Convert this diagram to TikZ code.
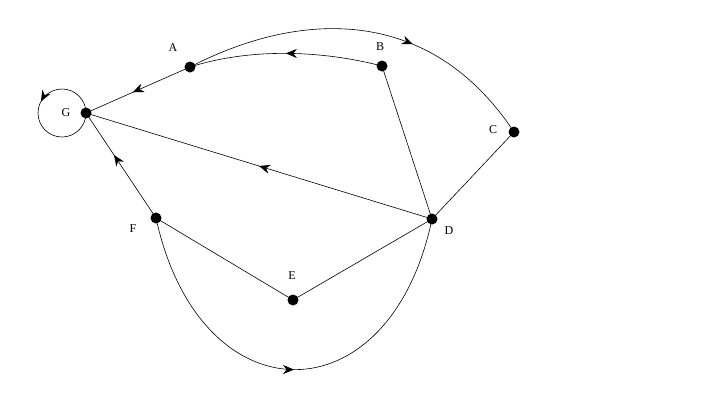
\documentclass[tikz,border=0pt]{standalone}
\usepackage{fontspec}
\setmainfont{Liberation Serif}
\usetikzlibrary{arrows.meta,decorations.markings}
\begin{document}
\begin{tikzpicture}[x=1pt,y=-1pt,
  dot/.style={circle,fill=black,inner sep=0pt,minimum size=11pt},
  lbl/.style={font=\fontsize{12}{14}\selectfont},
  edge/.style={line width=0.6pt},
  midarrow/.style={edge,postaction={decorate},decoration={markings,mark=at position #1 with {\arrow{Stealth[length=11pt,width=9pt]}}}}]
\useasboundingbox (0,0) rectangle (720,405);
\node[dot] (G) at (86,113) {};
\node[dot] (A) at (190,67) {};
\node[dot] (B) at (382,66) {};
\node[dot] (C) at (514,132) {};
\node[dot] (D) at (432,219) {};
\node[dot] (E) at (293,300) {};
\node[dot] (F) at (156,218) {};
\node[lbl] (lA) at (173,48) {A};
\node[lbl] (lB) at (380,47) {B};
\node[lbl] (lC) at (493,130) {C};
\node[lbl] (lD) at (449,231) {D};
\node[lbl] (lE) at (292,276) {E};
\node[lbl] (lF) at (133,229) {F};
\node[lbl] (lG) at (66,113) {G};
\draw[midarrow=0.55] (A.center) -- (G.center);
\draw[midarrow=0.5] (B.center) .. controls (320,50) and (250,48) .. (A.center);
\draw[midarrow=0.63] (A.center) .. controls (300,10) and (430,5) .. (C.center);
\draw[edge] (C.center) -- (D.center);
\draw[edge] (B.center) -- (D.center);
\draw[midarrow=0.5] (D.center) -- (G.center);
\draw[midarrow=0.6] (F.center) -- (G.center);
\draw[edge] (F.center) -- (E.center);
\draw[edge] (E.center) -- (D.center);
\draw[midarrow=0.5] (F.center) .. controls (200,420) and (390,420) .. (D.center);
\draw[midarrow=0.42] (G.center) arc[start angle=0,end angle=-360,radius=24];
\end{tikzpicture}
\end{document}
